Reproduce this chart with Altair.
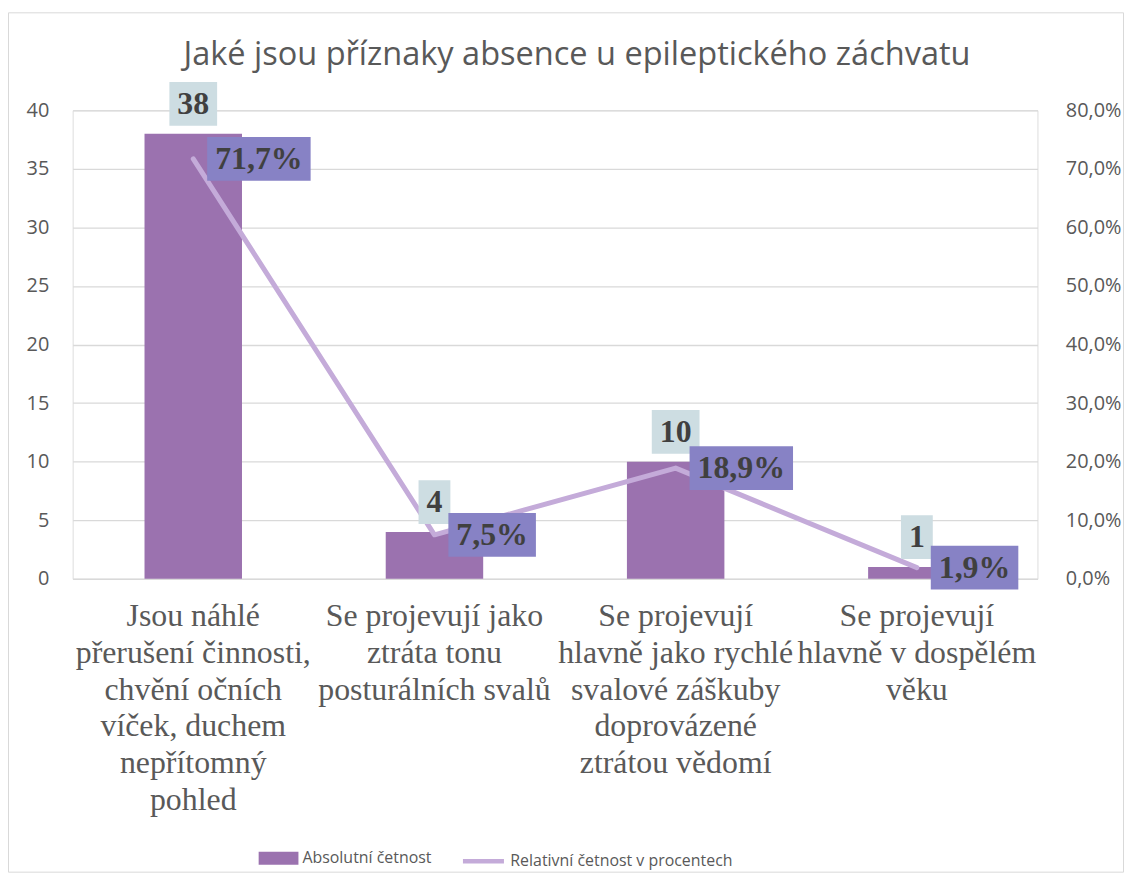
import altair as alt
import pandas as pd

categories = [
    "Jsou náhlé\npřerušení činnosti,\nchvění očních\nvíček, duchem\nnepřítomný\npohled",
    "Se projevují jako\nztráta tonu\nposturálních svalů",
    "Se projevují\nhlavně jako rychlé\nsvalové záškuby\ndoprovázené\nztrátou vědomí",
    "Se projevují\nhlavně v dospělém\nvěku",
]
counts = [38, 4, 10, 1]
percents = [71.7, 7.5, 18.9, 1.9]
series = ["Absolutní četnost", "Relativní četnost v procentech"]
title_text = "Jaké jsou příznaky absence u epileptického záchvatu"

BAR = "#9B72AF"
LINE = "#C4ABD9"
BOX1 = "#CDDDE2"
BOX2 = "#8782C5"
TXT = "#404040"
GRID = "#D9D9D9"
AX = "#595959"
SERIF = "Liberation Serif"
W, H = 970, 471

df = pd.DataFrame({"cat": categories, "count": counts, "pct": percents})

xscale = alt.Scale(paddingInner=0, paddingOuter=0)
xaxis = alt.Axis(title=None, labelAngle=0, labelExpr="split(datum.label, '\\n')",
                 labelFont=SERIF, labelFontSize=32, labelColor=AX,
                 labelLineHeight=37, labelPadding=22, ticks=False, domain=False,
                 labelLimit=1000, labelOverlap=False)
x = alt.X("cat:N", sort=categories, scale=xscale, axis=xaxis)

yc_scale = alt.Scale(domain=[0, 40], nice=False)
yp_scale = alt.Scale(domain=[0, 80], nice=False)

base = alt.Chart(df)

leg_common = dict(title=None, orient="none", direction="horizontal", labelFont="Open Sans",
                  labelFontSize=16, labelColor=AX, labelOffset=4, padding=0, symbolOpacity=1,
                  labelLimit=400)

bars = base.transform_calculate(s="'" + series[0] + "'").mark_bar(size=98).encode(
    x=x,
    y=alt.Y("count:Q", scale=yc_scale,
            axis=alt.Axis(title=None, values=list(range(0, 41, 5)), labelPadding=24,
                          ticks=False, domain=False, grid=True, gridColor=GRID, gridWidth=1.3,
                          labelFont="Open Sans", labelFontSize=20, labelColor=AX)),
    color=alt.Color("s:N", scale=alt.Scale(domain=[series[0]], range=[BAR]),
                    legend=alt.Legend(legendX=187, legendY=732, symbolSize=1600, symbolStrokeWidth=0,
                                      symbolType="M-1,-0.33L1,-0.33L1,0.33L-1,0.33Z", **leg_common)),
)

line = base.transform_calculate(s="'" + series[1] + "'").mark_line(
    strokeWidth=5, strokeCap="round", strokeJoin="round").encode(
    x=x,
    y=alt.Y("pct:Q", scale=yp_scale,
            axis=alt.Axis(title=None, orient="right", values=list(range(0, 81, 10)),
                          labelExpr="replace(format(datum.value, '.1f'), '.', ',') + '%'",
                          labelPadding=28, ticks=False, domain=False, grid=False,
                          labelFont="Open Sans", labelFontSize=20, labelColor=AX)),
    stroke=alt.Stroke("s:N", scale=alt.Scale(domain=[series[1]], range=[LINE]),
                      legend=alt.Legend(legendX=390, legendY=732, symbolSize=1700, symbolStrokeWidth=4.5,
                                        symbolType="stroke", **leg_common)),
)

cbase = base.transform_calculate(
    lbl="toString(datum.count)"
).transform_calculate(
    w="16 * length(datum.lbl) + 16"
).transform_calculate(
    box="'M' + (-datum.w / 2) + ',-22L' + (datum.w / 2) + ',-22L' + (datum.w / 2) + ',22L' + (-datum.w / 2) + ',22Z'"
)

cbox = cbase.mark_point(filled=True, size=4, opacity=1, strokeWidth=0, color=BOX1, yOffset=-30).encode(
    x=x,
    y=alt.Y("count:Q", scale=yc_scale, axis=None),
    shape=alt.Shape("box:N", scale=None, legend=None),
)
ctext = cbase.mark_text(font=SERIF, fontSize=32, fontWeight="bold", color=TXT,
                        align="center", baseline="middle", dy=-30).encode(
    x=x,
    y=alt.Y("count:Q", scale=yc_scale, axis=None),
    text="lbl:N",
)

pbase = base.transform_calculate(
    lbl="replace(format(datum.pct, '.1f'), '.', ',') + '%'"
).transform_calculate(
    w="16 * length(datum.lbl) + 24"
).transform_calculate(
    box="'M14,-22L' + (14 + datum.w) + ',-22L' + (14 + datum.w) + ',22L14,22Z'"
)

pbox = pbase.mark_point(filled=True, size=4, opacity=1, strokeWidth=0, color=BOX2).encode(
    x=x,
    y=alt.Y("pct:Q", scale=yp_scale, axis=None),
    shape=alt.Shape("box:N", scale=None, legend=None),
)
ptext = pbase.mark_text(font=SERIF, fontSize=32, fontWeight="bold", color=TXT,
                        align="left", baseline="middle", dx=22).encode(
    x=x,
    y=alt.Y("pct:Q", scale=yp_scale, axis=None),
    text="lbl:N",
)

frame = alt.Chart(pd.DataFrame({"a": [0]})).mark_rect(fill="transparent", stroke=GRID, strokeWidth=1).encode(
    x=alt.value(-64.5), x2=alt.value(1056.5), y=alt.value(-98), y2=alt.value(766)
)

chart = alt.layer(frame, bars, line, cbox, ctext, pbox, ptext).resolve_scale(
    y="independent"
).properties(
    width=W, height=H,
    title=alt.Title(title_text, font="Open Sans", fontSize=32.7, fontWeight="normal", color=AX,
                    anchor="middle", frame="group", baseline="alphabetic", offset=0, dx=22, dy=86),
    padding={"left": 65, "top": 100.5, "right": 87, "bottom": 296.5},
    autosize=alt.AutoSizeParams(type="none"),
).configure_view(stroke=None).configure_axisX(labelFont=SERIF).configure(background="white")

chart.save("out.html", embed_options={"renderer": "svg", "actions": False})
